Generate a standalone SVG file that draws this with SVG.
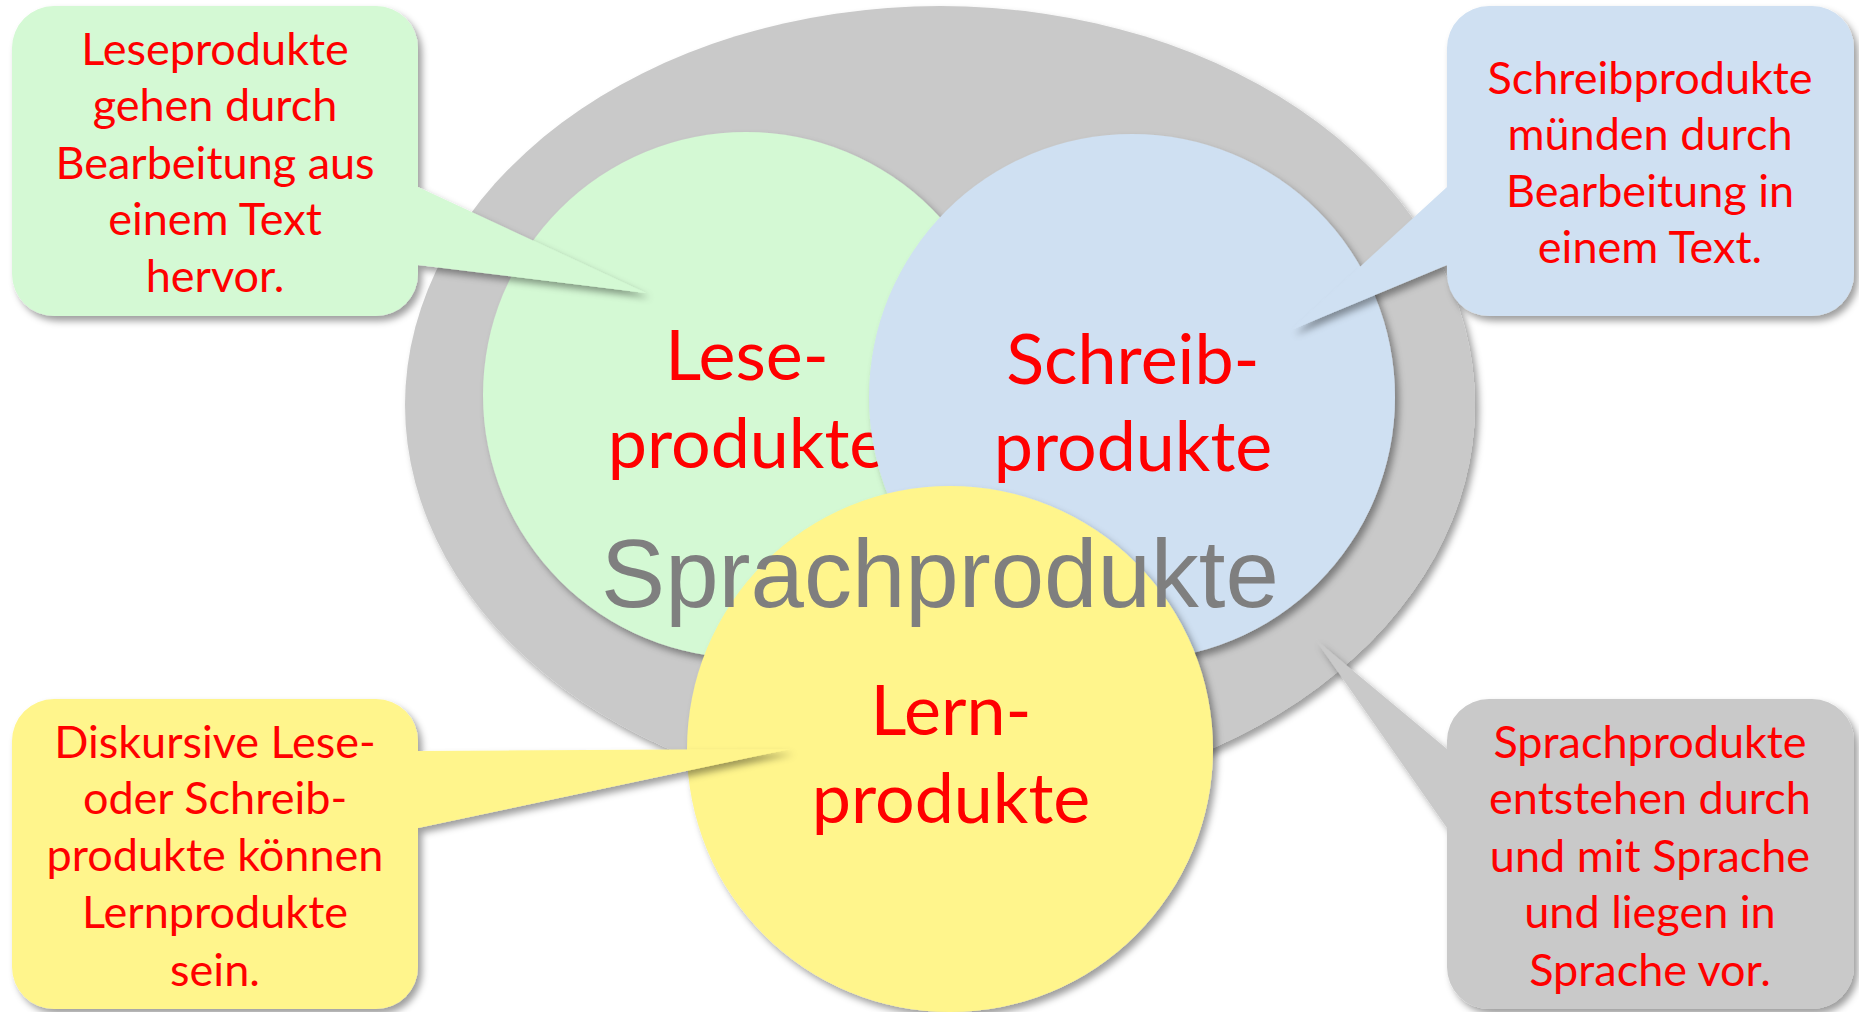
<svg xmlns="http://www.w3.org/2000/svg" width="1859" height="1012" viewBox="0 0 1859 1012">
<defs>
<filter id="sh" x="-10%" y="-10%" width="125%" height="125%">
<feDropShadow dx="4" dy="5" stdDeviation="3.5" flood-color="#000" flood-opacity="0.38"/>
</filter>
<style>
.big{font-family:Lato,"Open Sans","Liberation Sans",sans-serif;font-size:70px;fill:#ff0000;text-anchor:middle}
.cap{font-family:Lato,"Open Sans","Liberation Sans",sans-serif;font-size:45px;fill:#ff0000;text-anchor:middle}
.main{font-family:"Liberation Sans",Arial,sans-serif;font-size:96px;fill:#7f7f7f;text-anchor:middle}
</style>
</defs>
<rect width="1859" height="1012" fill="#ffffff"/>
<g id="sprachprodukte-area">
<ellipse cx="940" cy="405" rx="535" ry="399" fill="#c9c9c9" filter="url(#sh)"/>
</g>
<g id="leseprodukte">
<circle cx="746" cy="395" r="263" fill="#d4f9d4" filter="url(#sh)"/>
<text class="big" x="747" y="380">Lese-</text>
<text class="big" x="747" y="468">produkte</text>
</g>
<g id="schreibprodukte">
<circle cx="1132" cy="397" r="263" fill="#cfe0f2" filter="url(#sh)"/>
<text class="big" x="1133" y="384">Schreib-</text>
<text class="big" x="1133" y="471">produkte</text>
</g>
<g id="lernprodukte">
<circle cx="950" cy="749" r="263" fill="#fff58c" filter="url(#sh)"/>
<text class="big" x="951" y="735">Lern-</text>
<text class="big" x="951" y="823">produkte</text>
</g>
<g id="sprachprodukte-label">
<text class="main" x="940" y="607">Sprachprodukte</text>
</g>
<g id="connectors"></g>
<g id="callout-lese">
<path d="M54,6 H376 A42 42 0 0 1 418 48 V187 L646 293 L418 265 V274 A42 42 0 0 1 376 316 H54 A42 42 0 0 1 12 274 V48 A42 42 0 0 1 54 6 Z" fill="#d4f9d4" filter="url(#sh)"/>
<text class="cap" x="215"><tspan x="215" y="65">Leseprodukte</tspan><tspan x="215" y="121">gehen durch</tspan><tspan x="215" y="179">Bearbeitung aus</tspan><tspan x="215" y="235">einem Text</tspan><tspan x="215" y="292">hervor.</tspan></text>
</g>
<g id="callout-schreib">
<path d="M1489,6 H1812 A42 42 0 0 1 1854 48 V274 A42 42 0 0 1 1812 316 H1489 A42 42 0 0 1 1447 274 V265 L1291 330 L1447 187 V48 A42 42 0 0 1 1489 6 Z" fill="#cfe0f2" filter="url(#sh)"/>
<text class="cap" x="1650"><tspan x="1650" y="94">Schreibprodukte</tspan><tspan x="1650" y="150">münden durch</tspan><tspan x="1650" y="207">Bearbeitung in</tspan><tspan x="1650" y="263">einem Text.</tspan></text>
</g>
<g id="callout-lern">
<path d="M54,699 H376 A42 42 0 0 1 418 741 V751 L790 749 L418 828 V967 A42 42 0 0 1 376 1009 H54 A42 42 0 0 1 12 967 V741 A42 42 0 0 1 54 699 Z" fill="#fff58c" filter="url(#sh)"/>
<text class="cap" x="215"><tspan x="215" y="758">Diskursive Lese-</tspan><tspan x="215" y="814">oder Schreib-</tspan><tspan x="215" y="871">produkte können</tspan><tspan x="215" y="928">Lernprodukte</tspan><tspan x="215" y="986">sein.</tspan></text>
</g>
<g id="callout-sprach">
<path d="M1489,699 H1812 A42 42 0 0 1 1854 741 V967 A42 42 0 0 1 1812 1009 H1489 A42 42 0 0 1 1447 967 V828 L1315 639 L1447 749 V741 A42 42 0 0 1 1489 699 Z" fill="#c9c9c9" filter="url(#sh)"/>
<text class="cap" x="1650"><tspan x="1650" y="758">Sprachprodukte</tspan><tspan x="1650" y="814">entstehen durch</tspan><tspan x="1650" y="872">und mit Sprache</tspan><tspan x="1650" y="928">und liegen in</tspan><tspan x="1650" y="986">Sprache vor.</tspan></text>
</g>
</svg>
